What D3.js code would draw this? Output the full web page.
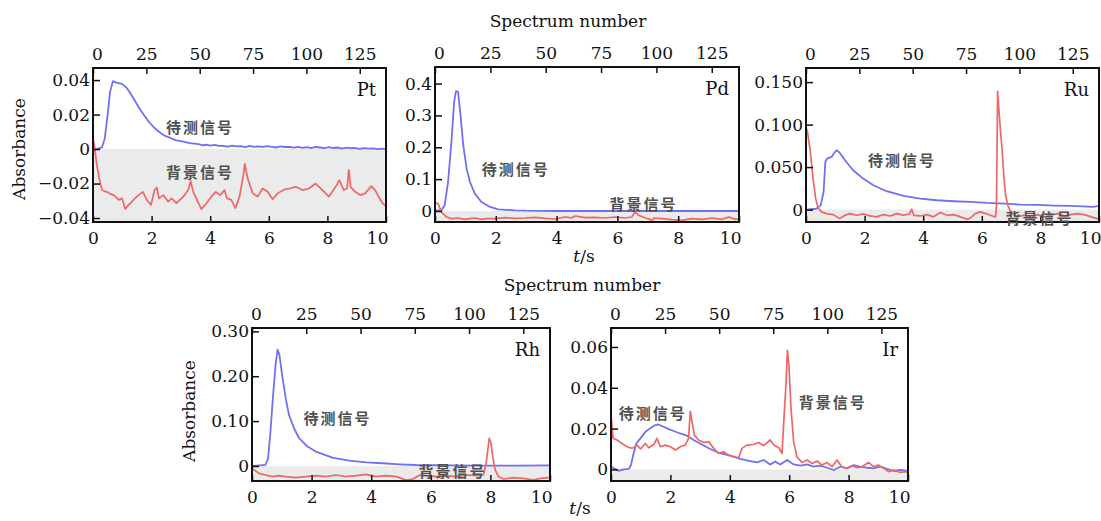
<!DOCTYPE html>
<html>
<head>
<meta charset="utf-8">
<script src="https://cdn.jsdelivr.net/npm/d3@7"></script>
<style>
  body { margin: 0; background: #fff; }
  svg { display: block; }
</style>
</head>
<body>
<div id="chart"></div>
<script>
// Shared axis ticks
const timeTicks = [0, 2, 4, 6, 8, 10];
const spectrumTicks = [0, 25, 50, 75, 100, 125];
const seriesNames = ["待测信号", "背景信号"];

// Pt
const ptTicks = [-0.04, -0.02, 0, 0.02, 0.04];
const ptSample = [[0,0],[0.15,0.0002],[0.3,0.0008],[0.4,0.006],[0.5,0.02],[0.58,0.033],[0.68,0.0394],[0.8,0.0385],[0.99,0.0378],[1.08,0.0365],[1.16,0.0352],[1.27,0.0325],[1.38,0.0295],[1.5,0.026],[1.61,0.0229],[1.75,0.0195],[1.89,0.0162],[2.03,0.0135],[2.18,0.011],[2.32,0.0092],[2.46,0.0076],[2.6,0.0068],[2.72,0.0058],[2.85,0.005],[3.0,0.0046],[3.15,0.004],[3.3,0.0034],[3.45,0.0031],[3.6,0.0028],[3.75,0.0022],[3.87,0.0025],[4.0,0.002],[4.15,0.0024],[4.3,0.0018],[4.43,0.0019],[4.6,0.0014],[4.75,0.002],[4.9,0.0015],[5.05,0.0017],[5.2,0.0011],[5.35,0.0018],[5.5,0.0013],[5.65,0.0016],[5.8,0.0012],[5.95,0.0017],[6.1,0.0013],[6.25,0.0009],[6.4,0.0015],[6.55,0.0012],[6.7,0.0013],[6.85,0.0008],[7.0,0.0012],[7.15,0.0007],[7.3,0.0011],[7.45,0.0006],[7.6,0.0012],[7.75,0.0009],[7.9,0.0005],[8.05,0.0011],[8.2,0.0006],[8.35,0.0009],[8.5,0.0003],[8.65,0.0008],[8.8,0.0005],[8.95,0.0006],[9.1,0.0001],[9.25,0.0006],[9.4,0.0002],[9.55,0.0004],[9.7,0.0],[9.85,0.0002],[10,0.0]];
const ptBackground = [[0,0.006],[0.05,0.002],[0.12,-0.008],[0.2,-0.016],[0.25,-0.02],[0.31,-0.0238],[0.4,-0.0245],[0.48,-0.0248],[0.58,-0.026],[0.71,-0.0267],[0.8,-0.028],[0.88,-0.0295],[0.99,-0.0286],[1.1,-0.0347],[1.21,-0.0324],[1.3,-0.031],[1.38,-0.0295],[1.47,-0.028],[1.55,-0.0267],[1.7,-0.0248],[1.84,-0.0295],[1.98,-0.0324],[2.1,-0.0238],[2.18,-0.0223],[2.25,-0.0286],[2.4,-0.0267],[2.57,-0.0305],[2.68,-0.0286],[2.85,-0.0314],[3.08,-0.0276],[3.25,-0.0238],[3.33,-0.0185],[3.42,-0.0248],[3.55,-0.0295],[3.7,-0.0349],[3.87,-0.0314],[4.04,-0.0276],[4.19,-0.0248],[4.34,-0.0267],[4.49,-0.0238],[4.57,-0.0286],[4.72,-0.0295],[4.86,-0.0343],[5.0,-0.0276],[5.14,-0.0143],[5.18,-0.0086],[5.28,-0.0171],[5.45,-0.0257],[5.62,-0.0276],[5.79,-0.0229],[5.96,-0.0248],[6.13,-0.0291],[6.3,-0.0257],[6.53,-0.0234],[6.7,-0.0229],[6.92,-0.0219],[7.15,-0.0238],[7.37,-0.0229],[7.6,-0.02],[7.83,-0.0238],[8.05,-0.0276],[8.28,-0.0219],[8.41,-0.0181],[8.56,-0.0238],[8.67,-0.0229],[8.73,-0.012],[8.79,-0.0219],[8.95,-0.0248],[9.12,-0.0267],[9.29,-0.0257],[9.5,-0.0215],[9.63,-0.0238],[9.75,-0.0276],[9.88,-0.0314],[10,-0.033]];

// Pd
const pdTicks = [0, 0.1, 0.2, 0.3, 0.4];
const pdSample = [[0,0.0],[0.1,0.002],[0.2,0.001],[0.32,0.018],[0.43,0.091],[0.54,0.217],[0.63,0.343],[0.69,0.376],[0.76,0.374],[0.84,0.30],[0.93,0.206],[1.04,0.133],[1.15,0.091],[1.31,0.0545],[1.53,0.028],[1.81,0.0126],[2.08,0.005],[2.63,0.002],[3.0,0.0008],[4,0],[10,0]];
const pdBackground = [[0,0.026],[0.1,0.023],[0.21,-0.003],[0.38,-0.019],[0.54,-0.024],[0.76,-0.022],[0.98,-0.0262],[1.2,-0.023],[1.31,-0.022],[1.55,-0.0262],[1.7,-0.024],[1.97,-0.0241],[2.3,-0.021],[2.63,-0.023],[2.96,-0.022],[3.29,-0.02],[3.62,-0.023],[3.95,-0.0252],[4.28,-0.0189],[4.5,-0.0215],[4.61,-0.0157],[4.94,-0.021],[5.27,-0.02],[5.6,-0.022],[5.93,-0.0189],[6.26,-0.022],[6.47,-0.0189],[6.58,-0.0031],[6.7,-0.0136],[6.92,-0.022],[7.08,-0.0262],[7.13,-0.0346],[7.19,-0.022],[7.46,-0.0241],[7.79,-0.0273],[8.12,-0.0293],[8.45,-0.0241],[8.78,-0.0262],[9.11,-0.022],[9.44,-0.0262],[9.66,-0.0189],[9.88,-0.0262],[10,-0.025]];

// Ru
const ruTicks = [0, 0.05, 0.1, 0.15];
const ruSample = [[0,0],[0.35,0.001],[0.5,0.005],[0.6,0.021],[0.66,0.056],[0.72,0.06],[0.87,0.062],[0.95,0.066],[1.04,0.0698],[1.15,0.067],[1.33,0.058],[1.61,0.0463],[1.95,0.0365],[2.3,0.0286],[2.75,0.0216],[3.33,0.0161],[3.9,0.0129],[4.47,0.011],[5.04,0.0098],[5.61,0.009],[6.18,0.0078],[6.75,0.0071],[7.33,0.0059],[7.9,0.0055],[8.47,0.0047],[9.04,0.0043],[9.61,0.0035],[9.8,0.0033],[10,0.0045]];
const ruBackground = [[0,0.097],[0.05,0.0914],[0.15,0.0678],[0.24,0.0365],[0.33,0.0129],[0.41,0.002],[0.53,-0.0027],[0.7,-0.0047],[0.93,-0.0059],[1.15,-0.0106],[1.33,-0.0067],[1.5,-0.0047],[1.73,-0.0067],[1.95,-0.0051],[2.18,-0.0075],[2.41,-0.0086],[2.64,-0.0059],[2.87,-0.0075],[3.1,-0.0047],[3.33,-0.0067],[3.53,-0.0051],[3.61,0.0004],[3.68,-0.0067],[3.9,-0.0075],[4.13,-0.0059],[4.35,-0.0086],[4.58,-0.0035],[4.81,-0.0067],[5.04,-0.0059],[5.27,-0.0086],[5.5,-0.0114],[5.61,-0.0098],[5.78,-0.0047],[5.95,-0.0027],[6.18,-0.0051],[6.36,-0.0075],[6.47,-0.0086],[6.5,0.0051],[6.54,0.139],[6.58,0.119],[6.64,0.0914],[6.7,0.0678],[6.75,0.0404],[6.81,0.0169],[6.89,0.0051],[6.98,-0.0027],[7.21,-0.0086],[7.44,-0.0067],[7.67,-0.0098],[7.9,-0.0059],[8.13,-0.0086],[8.35,-0.0067],[8.58,-0.0047],[8.81,-0.0075],[9.04,-0.0059],[9.27,-0.0047],[9.5,-0.0059],[9.73,-0.0086],[9.95,-0.0106],[10,-0.011]];

// Rh
const rhTicks = [0, 0.1, 0.2, 0.3];
const rhSample = [[0,0],[0.45,0.0022],[0.54,0.0171],[0.62,0.0766],[0.7,0.151],[0.79,0.2254],[0.86,0.259],[0.92,0.2478],[1.01,0.203],[1.13,0.151],[1.24,0.1138],[1.41,0.0841],[1.58,0.0618],[1.86,0.0432],[2.14,0.032],[2.7,0.0186],[3.26,0.0119],[3.83,0.0082],[4.39,0.006],[4.95,0.0037],[5.51,0.0022],[6.64,0.0015],[7.76,0.0008],[8.88,0.0008],[10,0.0015]];
const rhBackground = [[0,-0.0052],[0.23,-0.0164],[0.45,-0.0201],[0.68,-0.0238],[0.9,-0.0216],[1.13,-0.0238],[1.46,-0.026],[1.8,-0.0238],[2.14,-0.0216],[2.48,-0.0238],[2.81,-0.0201],[3.15,-0.0238],[3.49,-0.0216],[3.83,-0.0186],[4.16,-0.0238],[4.5,-0.0216],[4.84,-0.0238],[5.17,-0.0313],[5.4,-0.029],[5.63,-0.0201],[5.85,-0.0216],[6.19,-0.0238],[6.52,-0.0216],[6.86,-0.0238],[7.2,-0.0201],[7.54,-0.0216],[7.76,-0.0201],[7.85,0.0022],[7.92,0.0394],[7.96,0.0618],[8.01,0.0543],[8.08,0.0208],[8.16,-0.0089],[8.27,-0.0238],[8.44,-0.029],[8.77,-0.026],[9.11,-0.0275],[9.45,-0.0313],[9.67,-0.0275],[9.96,-0.026]];

// Ir
const irTicks = [0, 0.02, 0.04, 0.06];
const irSample = [[0,0.0013],[0.15,0.0002],[0.26,-0.0007],[0.43,0],[0.6,0.0002],[0.67,0.0021],[0.76,0.0078],[0.85,0.0127],[0.99,0.0152],[1.16,0.0184],[1.32,0.0201],[1.49,0.0217],[1.6,0.022],[1.77,0.0209],[1.94,0.0197],[2.11,0.0188],[2.33,0.0176],[2.56,0.0165],[2.78,0.0144],[3.06,0.0122],[3.34,0.01],[3.68,0.0078],[4.02,0.0067],[4.35,0.0051],[4.69,0.0041],[4.92,0.0034],[5.14,0.0046],[5.36,0.0024],[5.53,0.0038],[5.7,0.0024],[5.93,0.0046],[6.15,0.0024],[6.38,0.0018],[6.6,0.0024],[6.82,0.0013],[7.05,0.0018],[7.27,0.0008],[7.5,-0.0003],[7.72,0.0013],[7.95,0.0005],[8.17,0.0021],[8.39,0.0013],[8.62,0.0008],[8.84,0.0005],[9.07,0.0013],[9.29,0.0002],[9.52,-0.0008],[9.74,-0.0003],[9.97,-0.0008]];
const irBackground = [[0,0.0266],[0.07,0.0152],[0.2,0.0144],[0.37,0.0127],[0.54,0.0111],[0.71,0.0103],[0.88,0.0119],[0.99,0.01],[1.16,0.0127],[1.27,0.0106],[1.44,0.0122],[1.55,0.0152],[1.66,0.0111],[1.83,0.0119],[2.0,0.0111],[2.17,0.0095],[2.33,0.0111],[2.5,0.0119],[2.61,0.0152],[2.67,0.0285],[2.73,0.0233],[2.81,0.0168],[2.95,0.0144],[3.12,0.0132],[3.29,0.0135],[3.46,0.0103],[3.62,0.0078],[3.79,0.0086],[3.96,0.007],[4.13,0.0062],[4.3,0.0057],[4.41,0.0103],[4.58,0.0119],[4.8,0.0122],[4.97,0.0132],[5.14,0.0116],[5.36,0.0144],[5.48,0.0119],[5.65,0.0106],[5.76,0.0078],[5.81,0.0217],[5.89,0.0413],[5.94,0.0584],[5.99,0.0511],[6.06,0.0299],[6.15,0.0135],[6.26,0.0062],[6.43,0.0034],[6.6,0.0046],[6.77,0.0029],[6.94,0.0041],[7.1,0.0021],[7.27,0.0034],[7.44,0.0013],[7.61,0.0046],[7.77,0.0013],[7.95,0.0005],[8.12,0.0018],[8.28,0.0008],[8.45,0.0013],[8.67,0.0034],[8.84,0.0013],[9.0,0.0021],[9.18,0.0005],[9.35,-0.0011],[9.52,-0.0003],[9.74,-0.0015],[9.97,-0.0011]];

// Layout
const width = 1101;
const height = 521;
const serif = "'DejaVu Serif', serif";
const cjk = "'Noto Sans CJK SC', sans-serif";
const blue = "#7070f2";
const red = "#f06666";

const panels = [
    { name: "Pt", left: 93, top: 68, w: 293, h: 154, yDomain: [-0.0423, 0.047], yTicks: ptTicks, fmt: ".2f",
      sample: ptSample, background: ptBackground, sampleAt: [3.65, 0.0131], backgroundAt: [3.65, -0.0131] },
    { name: "Pd", left: 435, top: 67, w: 304, h: 155, yDomain: [-0.0346, 0.452], yTicks: pdTicks, fmt: ".1f",
      sample: pdSample, background: pdBackground, sampleAt: [2.66, 0.134], backgroundAt: [6.86, 0.024] },
    { name: "Ru", left: 806, top: 68, w: 293, h: 154, yDomain: [-0.0146, 0.1666], yTicks: ruTicks, fmt: ".3f",
      sample: ruSample, background: ruBackground, sampleAt: [3.28, 0.0592], backgroundAt: [7.97, -0.009] },
    { name: "Rh", left: 252, top: 328, w: 298, h: 153, yDomain: [-0.0335, 0.3074], yTicks: rhTicks, fmt: ".2f",
      sample: rhSample, background: rhBackground, sampleAt: [2.87, 0.107], backgroundAt: [6.73, -0.009] },
    { name: "Ir", left: 611, top: 328, w: 297, h: 153, yDomain: [-0.0057, 0.0693], yTicks: irTicks, fmt: ".2f",
      sample: irSample, background: irBackground, sampleAt: [1.41, 0.0281], backgroundAt: [7.47, 0.0335] }
];

const svg = d3.select("#chart")
    .append("svg")
    .attr("width", width)
    .attr("height", height);

svg.append("rect").attr("width", width).attr("height", height).attr("fill", "#fff");

function styleAxis(sel) {
    sel.select(".domain").remove();
    sel.selectAll(".tick line").attr("stroke", "#111").attr("stroke-width", 1.5);
    sel.selectAll(".tick text")
        .attr("fill", "#111")
        .attr("font-family", serif)
        .attr("font-size", 17);
}

panels.forEach(function (p, i) {
    const g = svg.append("g").attr("transform", `translate(${p.left},${p.top})`);

    const x = d3.scaleLinear().domain([0, 10]).range([0, p.w]);
    const xs = d3.scaleLinear().domain([0, 137.3]).range([0, p.w]);
    const y = d3.scaleLinear().domain(p.yDomain).range([p.h, 0]);

    // grey band below zero
    g.append("rect")
        .attr("x", 0)
        .attr("y", y(0))
        .attr("width", p.w)
        .attr("height", p.h - y(0))
        .attr("fill", "#ebebeb");

    g.append("clipPath").attr("id", "clip" + i)
        .append("rect").attr("width", p.w).attr("height", p.h);

    const line = d3.line()
        .x(function (d) { return x(d[0]); })
        .y(function (d) { return y(d[1]); });

    const lines = g.append("g").attr("clip-path", `url(#clip${i})`);
    lines.append("path")
        .datum(p.sample)
        .attr("fill", "none")
        .attr("stroke", blue)
        .attr("stroke-width", 1.8)
        .attr("stroke-linejoin", "round")
        .attr("d", line);
    lines.append("path")
        .datum(p.background)
        .attr("fill", "none")
        .attr("stroke", red)
        .attr("stroke-width", 1.7)
        .attr("stroke-linejoin", "round")
        .attr("d", line);

    // axes, ticks point inward
    const fmt = d3.format(p.fmt);
    g.append("g")
        .attr("transform", `translate(0,${p.h})`)
        .call(d3.axisBottom(x).tickValues(timeTicks).tickSize(-6).tickSizeOuter(0).tickPadding(10)
            .tickFormat(d3.format("d")))
        .call(styleAxis)
        .call(function (a) {
            a.selectAll(".tick text").filter(function (d) { return d === 10; })
                .attr("text-anchor", "end").attr("dx", 2);
        });

    g.append("g")
        .call(d3.axisTop(xs).tickValues(spectrumTicks).tickSize(-6).tickSizeOuter(0).tickPadding(8)
            .tickFormat(d3.format("d")))
        .call(styleAxis)
        .call(function (a) {
            a.selectAll(".tick text").filter(function (d) { return d === 0; })
                .attr("dx", 4);
        });

    g.append("g")
        .call(d3.axisLeft(y).tickValues(p.yTicks).tickSize(-7).tickSizeOuter(0).tickPadding(3)
            .tickFormat(function (d) { return d === 0 ? "0" : fmt(d); }))
        .call(styleAxis);

    // frame
    g.append("rect")
        .attr("width", p.w)
        .attr("height", p.h)
        .attr("fill", "none")
        .attr("stroke", "#111")
        .attr("stroke-width", 2);

    // element name
    g.append("text")
        .attr("x", p.w - 10)
        .attr("y", 28)
        .attr("text-anchor", "end")
        .attr("font-family", serif)
        .attr("font-size", 18)
        .attr("fill", "#111")
        .text(p.name);

    // series labels
    [p.sampleAt, p.backgroundAt].forEach(function (pos, k) {
        g.append("text")
            .attr("x", x(pos[0]))
            .attr("y", y(pos[1]))
            .attr("text-anchor", "middle")
            .attr("dominant-baseline", "central")
            .attr("font-family", cjk)
            .attr("font-weight", 700)
            .attr("font-size", 15)
            .attr("letter-spacing", 2)
            .attr("fill", "#505050")
            .text(seriesNames[k]);
    });
});

// shared titles
function title(tx, ty, text, rotate) {
    const t = svg.append("text")
        .attr("text-anchor", "middle")
        .attr("dominant-baseline", "central")
        .attr("font-family", serif)
        .attr("font-size", 17)
        .attr("fill", "#111");
    if (rotate) {
        t.attr("transform", `translate(${tx},${ty}) rotate(-90)`);
    } else {
        t.attr("x", tx).attr("y", ty);
    }
    t.text(text);
    return t;
}

title(568, 21, "Spectrum number");
title(582, 285, "Spectrum number");
title(19, 149, "Absorbance", true);
title(189, 411, "Absorbance", true);

[[584, 256], [580, 508]].forEach(function (pos) {
    const t = title(pos[0], pos[1], "");
    t.append("tspan").attr("font-style", "italic").text("t");
    t.append("tspan").text("/s");
});
</script>
</body>
</html>
